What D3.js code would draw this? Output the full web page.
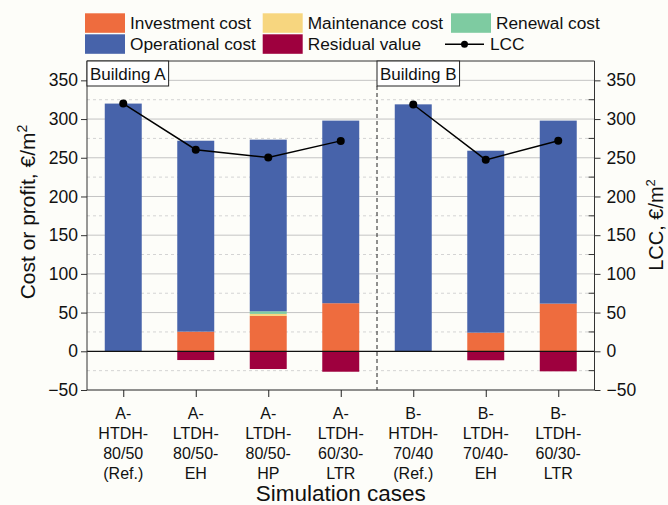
<!DOCTYPE html>
<html>
<head>
<meta charset="utf-8">
<script src="https://cdn.jsdelivr.net/npm/d3@7/dist/d3.min.js"></script>
<style>
  html, body { margin: 0; padding: 0; background: #fdfdf9; }
  svg { display: block; font-family: "Liberation Sans", Arial, sans-serif; }
</style>
</head>
<body>
<svg id="chart" width="668" height="505"></svg>
<script>
// Simulation cases (multi-line tick labels)
const cases = [
  ["A-", "HTDH-", "80/50", "(Ref.)"],
  ["A-", "LTDH-", "80/50-", "EH"],
  ["A-", "LTDH-", "80/50-", "HP"],
  ["A-", "LTDH-", "60/30-", "LTR"],
  ["B-", "HTDH-", "70/40", "(Ref.)"],
  ["B-", "LTDH-", "70/40-", "EH"],
  ["B-", "LTDH-", "60/30-", "LTR"]
];

// Cost components, €/m²
const investment  = [0, 25.4, 45.7, 62.1, 0, 24.1, 61.6];
const maintenance = [0, 0, 2.6, 0, 0, 0, 0];
const renewal     = [0, 0, 3.4, 0, 0, 0, 0];
const operational = [320, 246.6, 221.7, 235.9, 319, 235, 236.4];
const residual    = [0, -11.3, -22.9, -26.4, 0, -11.6, -25.9];
const lcc         = [320, 260.4, 250.4, 271.8, 318.8, 247.3, 272];

const yTicks = [-50, 0, 50, 100, 150, 200, 250, 300, 350];
const yMinor = [-25, 25, 75, 125, 175, 225, 275, 325];

const groups = [
  { name: "Building A", first: 0 },
  { name: "Building B", first: 4 }
];

const colors = {
  investment: "#ee6c3e",
  maintenance: "#f7d67f",
  renewal: "#7ecba1",
  operational: "#4763aa",
  residual: "#9e003e"
};

const legendItems = [
  { label: "Investment cost", key: "investment", col: 0, row: 0 },
  { label: "Maintenance cost", key: "maintenance", col: 1, row: 0 },
  { label: "Renewal cost", key: "renewal", col: 2, row: 0 },
  { label: "Operational cost", key: "operational", col: 0, row: 1 },
  { label: "Residual value", key: "residual", col: 1, row: 1 }
];

const svg = d3.select("#chart");
const plot = { left: 87, right: 594.5, top: 61, bottom: 390 };

const x = d3.scaleLinear().domain([0.5, cases.length + 0.5]).range([plot.left, plot.right]);
const y = d3.scaleLinear().domain([-50, 375]).range([plot.bottom, plot.top]);
const unit = x(1) - x(0);
const barW = unit * 0.51;

// Grid lines
const grid = svg.append("g");
grid.selectAll("line.major").data(yTicks.filter(v => v !== 0 && v !== -50)).join("line")
  .attr("x1", plot.left).attr("x2", plot.right)
  .attr("y1", d => y(d)).attr("y2", d => y(d))
  .attr("stroke", "#c4c4c4").attr("stroke-width", 1);
grid.selectAll("line.minor").data(yMinor).join("line")
  .attr("x1", plot.left).attr("x2", plot.right)
  .attr("y1", d => y(d)).attr("y2", d => y(d))
  .attr("stroke", "#d4d4d4").attr("stroke-width", 1).attr("stroke-dasharray", "3,3");

// Stacked bars
const stackKeys = ["investment", "maintenance", "renewal", "operational"];
const series = { investment, maintenance, renewal, operational };
const bars = svg.append("g");
cases.forEach((c, i) => {
  let base = 0;
  stackKeys.forEach(k => {
    const v = series[k][i];
    if (v > 0) {
      bars.append("rect")
        .attr("x", x(i + 1) - barW / 2).attr("width", barW)
        .attr("y", y(base + v)).attr("height", y(base) - y(base + v))
        .attr("fill", colors[k]);
    }
    base += v;
  });
  if (residual[i] < 0) {
    bars.append("rect")
      .attr("x", x(i + 1) - barW / 2).attr("width", barW)
      .attr("y", y(0)).attr("height", y(residual[i]) - y(0))
      .attr("fill", colors.residual);
  }
});

// Zero line
svg.append("line")
  .attr("x1", plot.left).attr("x2", plot.right)
  .attr("y1", y(0)).attr("y2", y(0))
  .attr("stroke", "#111").attr("stroke-width", 1.3);

// Divider between buildings
const divX = (x(4) + x(5)) / 2;
svg.append("line")
  .attr("x1", divX).attr("x2", divX)
  .attr("y1", plot.top + 25).attr("y2", plot.bottom)
  .attr("stroke", "#222").attr("stroke-width", 1).attr("stroke-dasharray", "4,3");

// LCC lines per building
const line = d3.line().x(d => x(d.i + 1)).y(d => y(d.v));
const lccPts = lcc.map((v, i) => ({ i, v }));
[[0, 4], [4, 7]].forEach(([a, b]) => {
  svg.append("path")
    .attr("d", line(lccPts.slice(a, b)))
    .attr("fill", "none").attr("stroke", "#000").attr("stroke-width", 1.5);
});
svg.append("g").selectAll("circle").data(lccPts).join("circle")
  .attr("cx", d => x(d.i + 1)).attr("cy", d => y(d.v)).attr("r", 4)
  .attr("fill", "#000");

// Frame
svg.append("line")
  .attr("x1", plot.left).attr("x2", plot.right)
  .attr("y1", plot.top).attr("y2", plot.top)
  .attr("stroke", "#333").attr("stroke-width", 1);

// Left axis
const leftAxis = svg.append("g").attr("transform", `translate(${plot.left},0)`)
  .call(d3.axisLeft(y).tickValues(yTicks).tickSize(6).tickPadding(3)
    .tickFormat(d => d < 0 ? "\u2212" + Math.abs(d) : d));
leftAxis.select(".domain").attr("d", `M0,${plot.top}V${plot.bottom}`).attr("stroke", "#333");
leftAxis.selectAll("text").attr("font-size", 17.5).attr("fill", "#111")
  .attr("font-family", "Liberation Sans, Arial, sans-serif");
leftAxis.selectAll(".tick line").attr("stroke", "#333");

// Right axis
const rightAxis = svg.append("g").attr("transform", `translate(${plot.right},0)`)
  .call(d3.axisRight(y).tickValues(yTicks).tickSize(6).tickPadding(6)
    .tickFormat(d => d < 0 ? "\u2212" + Math.abs(d) : d));
rightAxis.select(".domain").attr("d", `M0,${plot.top}V${plot.bottom}`).attr("stroke", "#333");
rightAxis.selectAll("text").attr("font-size", 17.5).attr("fill", "#111")
  .attr("font-family", "Liberation Sans, Arial, sans-serif");
rightAxis.selectAll(".tick line").attr("stroke", "#333");
rightAxis.append("g").selectAll("line").data(yMinor).join("line")
  .attr("x1", -6).attr("x2", 0)
  .attr("y1", d => y(d)).attr("y2", d => y(d))
  .attr("stroke", "#333");

// Bottom axis
const bottomAxis = svg.append("g").attr("transform", `translate(0,${plot.bottom})`)
  .call(d3.axisBottom(x).tickValues(d3.range(1, cases.length + 1)).tickSize(7).tickFormat(""));
bottomAxis.select(".domain").attr("d", `M${plot.left},0H${plot.right}`).attr("stroke", "#222");
bottomAxis.selectAll(".tick line").attr("stroke", "#222");

// Multi-line case labels
const labels = svg.append("g").attr("font-size", 16).attr("fill", "#111").attr("text-anchor", "middle");
cases.forEach((lines, i) => {
  const t = labels.append("text").attr("x", x(i + 1)).attr("y", 419);
  lines.forEach((s, j) => {
    t.append("tspan").attr("x", x(i + 1)).attr("y", 419 + j * 20).text(s);
  });
});

// Axis titles
svg.append("text")
  .attr("x", (plot.left + plot.right) / 2).attr("y", 501)
  .attr("text-anchor", "middle").attr("font-size", 22.5).attr("fill", "#111")
  .text("Simulation cases");

const lt = svg.append("text")
  .attr("transform", "translate(35,212) rotate(-90)")
  .attr("text-anchor", "middle").attr("font-size", 21).attr("fill", "#111");
lt.append("tspan").text("Cost or profit, \u20ac/m");
lt.append("tspan").attr("font-size", 14).attr("dy", -8).text("2");

const rt = svg.append("text")
  .attr("transform", "translate(663,225) rotate(-90)")
  .attr("text-anchor", "middle").attr("font-size", 20).attr("fill", "#111");
rt.append("tspan").text("LCC, \u20ac/m");
rt.append("tspan").attr("font-size", 13).attr("dy", -8).text("2");

// Building boxes
const boxes = svg.append("g");
groups.forEach(g => {
  const bx = g.first === 0 ? plot.left : divX;
  const b = boxes.append("g").attr("transform", `translate(${bx},${plot.top})`);
  const txt = b.append("text").attr("x", 3).attr("y", 19)
    .attr("font-size", 17).attr("fill", "#111").text(g.name);
  const w = txt.node().getComputedTextLength() + 6;
  b.insert("rect", "text").attr("width", w).attr("height", 25)
    .attr("fill", "#fff").attr("stroke", "#222").attr("stroke-width", 1);
});

// Legend
const colX = [85, 262.7, 451];
const rowY = [13.3, 34.3];
const legend = svg.append("g").attr("font-size", 17.3).attr("fill", "#111");
legendItems.forEach(it => {
  const gx = colX[it.col], gy = rowY[it.row];
  legend.append("rect").attr("x", gx).attr("y", gy).attr("width", 40).attr("height", 19.5)
    .attr("fill", colors[it.key]);
  legend.append("text").attr("x", gx + 45).attr("y", gy + 16).text(it.label);
});
const lgY = rowY[1] + 10;
legend.append("line").attr("x1", 445).attr("x2", 484).attr("y1", lgY).attr("y2", lgY)
  .attr("stroke", "#000").attr("stroke-width", 1.5);
legend.append("circle").attr("cx", 464.5).attr("cy", lgY).attr("r", 3.5).attr("fill", "#000");
legend.append("text").attr("x", 490).attr("y", rowY[1] + 16).text("LCC");
</script>
</body>
</html>
